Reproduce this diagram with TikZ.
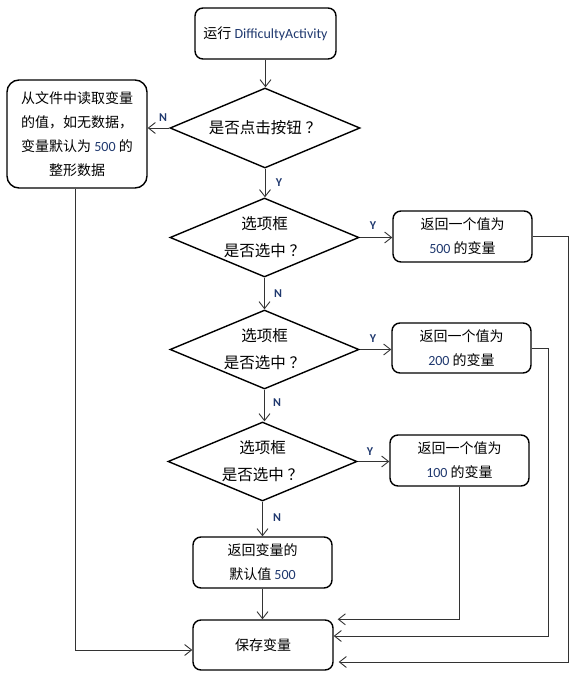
\documentclass[tikz,border=0pt]{standalone}
\usepackage{fontspec}
\setmainfont{Carlito}
\newfontfamily\cjk{Noto Sans CJK SC}
\usetikzlibrary{shapes.geometric,arrows.meta,calc}
\definecolor{navy}{RGB}{31,56,110}
\newcommand{\latn}[1]{{\rmfamily\color{navy}#1}}
\newcommand{\fq}{\hspace{0.25em}？}
\tikzset{
  box/.style={draw=black, line width=1.4pt, rounded corners=8pt, align=center,
    font=\cjk\fontsize{14}{24}\selectfont, inner sep=0pt,
    minimum width=139pt, minimum height=51pt},
  dia/.style={draw=black, diamond, aspect=2.4, line width=1.4pt, align=center,
    font=\cjk\fontsize{15.5}{27}\selectfont, inner sep=0pt,
    minimum width=189pt, minimum height=79pt},
  conn/.style={draw=black!80, line width=0.9pt, -{Straight Barb[length=7pt,width=11pt]}},
  lab/.style={font=\bfseries\fontsize{12}{12}\selectfont, text=navy, inner sep=0pt}
}
\begin{document}
\begin{tikzpicture}[x=1pt,y=-1pt]
\useasboundingbox (0,0) rectangle (578,680);
% nodes
\node[box, minimum width=141pt] (start) at (265.5,33.5) {运行 \latn{DifficultyActivity}};
\node[dia, minimum width=190pt, minimum height=80pt] (d1) at (265,128) {是否点击按钮\fq};
\node[box, minimum width=140pt, minimum height=108pt, rounded corners=12pt] (left) at (77,134)
  {从文件中读取变量\\的值，如无数据，\\变量默认为 \latn{500} 的\\整形数据};
\node[dia] (d2) at (264.5,237.5) {选项框\\是否选中\fq};
\node[box] (b500) at (462.5,236.5) {返回一个值为\\\latn{500} 的变量};
\node[dia] (d3) at (264.5,349.5) {选项框\\是否选中\fq};
\node[box, minimum height=50pt] (b200) at (461.5,348) {返回一个值为\\\latn{200} 的变量};
\node[dia] (d4) at (262.5,461.5) {选项框\\是否选中\fq};
\node[box] (b100) at (459.5,460.5) {返回一个值为\\\latn{100} 的变量};
\node[box] (def) at (262.5,562.5) {返回变量的\\默认值 \latn{500}};
\node[box, minimum width=140pt, minimum height=50pt] (save) at (263,645) {保存变量};
% labels
\node[lab] (ln1) at (163,118) {N};
\node[lab] (ly1) at (279,183) {Y};
\node[lab] (ly2) at (373,226) {Y};
\node[lab] (ln2) at (278,294) {N};
\node[lab] (ly3) at (373,339) {Y};
\node[lab] (ln3) at (277,403) {N};
\node[lab] (ly4) at (370,452) {Y};
\node[lab] (ln4) at (277,518) {N};
% helper coordinates
\coordinate (r200) at (548,636);
\coordinate (r500) at (568,662);
\coordinate (l1) at (75,650);
% connectors
\draw[conn] (start.south) -- (start.south |- d1.north);
\draw[conn] (d1.west) -- (left.east |- d1.west);
\draw[conn] (d1.south) -- (d1.south |- d2.north);
\draw[conn] (d2.east) -- (b500.west |- d2.east);
\draw[conn] (d2.south) -- (d2.south |- d3.north);
\draw[conn] (d3.east) -- (b200.west |- d3.east);
\draw[conn] (d3.south) -- (d3.south |- d4.north);
\draw[conn] (d4.east) -- (b100.west |- d4.east);
\draw[conn] (d4.south) -- (d4.south |- def.north);
\draw[conn] (def.south) -- (def.south |- save.north);
\draw[conn] (b100.south) |- ($(save.north east)+(4,0)$);
\draw[conn] (b200.east) -| (r200) -- (save.east |- r200);
\draw[conn] (b500.east) -| (r500) -- ($(save.east |- r500)+(5,0)$);
\draw[conn] (left.south -| l1) |- (save.west |- l1);
\end{tikzpicture}
\end{document}
